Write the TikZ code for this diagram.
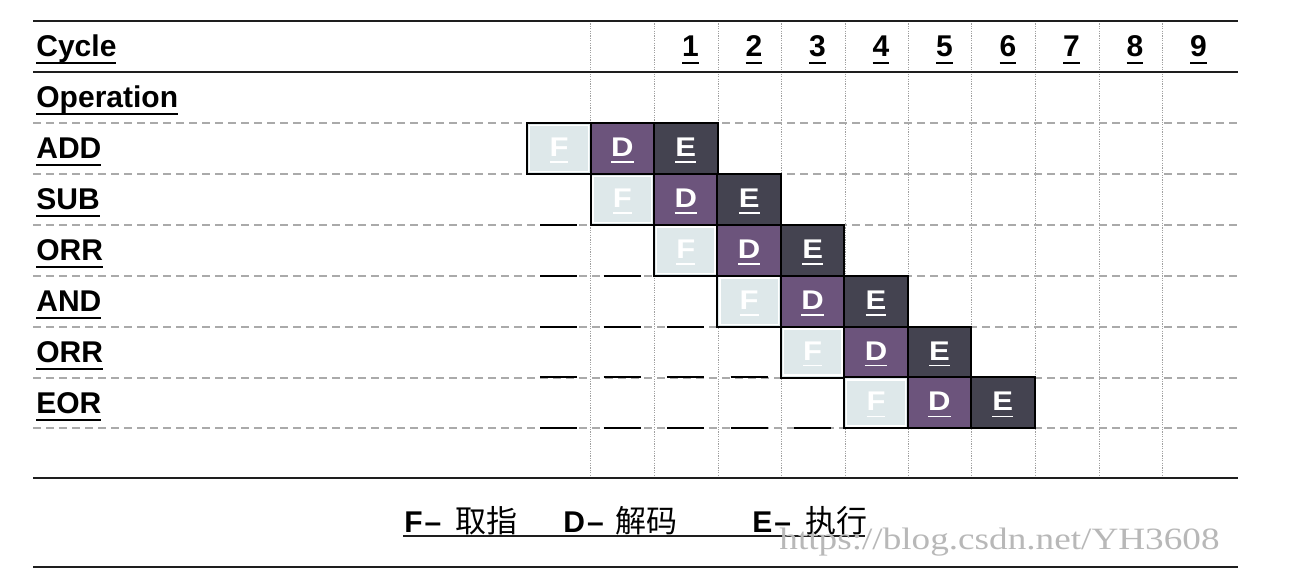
\documentclass[tikz,border=0pt]{standalone}
\usepackage{fontspec}
\usepackage{graphicx}
\setmainfont{Liberation Sans}
\newfontfamily\cjk{Noto Sans CJK SC}
\newfontfamily\wmfont{Liberation Serif}
\newcommand\myuline[1]{\leavevmode\setbox0\hbox{#1}\rlap{\rule[-3.6pt]{\wd0}{1pt}}\box0}
\newcommand\myulinebox[1]{\leavevmode\setbox0\hbox{#1}\rlap{\rule[-3.2pt]{\wd0}{0.8pt}}\box0}
\definecolor{fcol}{RGB}{222,232,234}
\definecolor{dcol}{RGB}{108,84,124}
\definecolor{ecol}{RGB}{68,67,80}
\definecolor{rulecol}{RGB}{30,30,30}
\definecolor{dashcol}{RGB}{170,170,170}
\definecolor{dotcol}{RGB}{160,160,160}
\begin{document}
\begin{tikzpicture}[x=0.5pt,y=-0.5pt,
  hrule/.style={draw=rulecol, line width=1pt},
  rowrule/.style={draw=dashcol, line width=0.6pt, dash pattern=on 4pt off 2.5pt},
  colrule/.style={draw=dotcol, line width=0.5pt, dash pattern=on 0.6pt off 0.6pt},
  lbl/.style={anchor=base west, inner sep=0pt, font=\fontsize{15}{18}\selectfont\bfseries},
  num/.style={anchor=base, inner sep=0pt, font=\fontsize{15}{18}\selectfont\bfseries},
  cell/.style={draw=black, line width=1pt, minimum width=31.75pt, minimum height=25.5pt,
    inner sep=0pt, text=white, text height=8pt, text depth=0pt,
    font=\fontsize{13.5}{16}\selectfont\bfseries},
  fcell/.style={cell, fill=fcol, path picture={\draw[white, line width=0.7pt]
    ([shift={(1.2pt,1.2pt)}]path picture bounding box.south west) rectangle
    ([shift={(-1.2pt,-1.2pt)}]path picture bounding box.north east);}},
  dcell/.style={cell, fill=dcol},
  ecell/.style={cell, fill=ecol},
  blankmark/.style={draw=black, line width=1pt},
  leg/.style={anchor=base west, inner sep=0pt, font=\fontsize{15}{18}\selectfont\bfseries},
  wm/.style={anchor=base west, inner sep=0pt, text=black!28, font=\wmfont\fontsize{15.5}{18}\selectfont}
]
\useasboundingbox[fill=white] (0,0) rectangle (1296,582);

% vertical dotted column lines
\foreach \x in {590,654,718,781,845,908,971,1035,1099,1162}
  \draw[colrule] (\x,21) -- (\x,478);

% horizontal dashed row lines
\foreach \y in {123,174,225,276,327,378,428}
  \draw[rowrule] (33,\y) -- (1238,\y);

% solid rules
\foreach \y in {21,72,478,567}
  \draw[hrule] (33,\y) -- (1238,\y);

% header texts
\node[lbl] (cycle) at (36,57) {\myuline{Cycle}};
\node[lbl] (operation) at (36,108) {\myuline{Operation}};
\foreach \k in {1,...,9}
  \node[num] (n\k) at ({690.5+63.5*(\k-1)},57) {\myuline{\k}};

% operation labels
\foreach \name [count=\j from 0] in {ADD,SUB,ORR,AND,ORR,EOR}
  \node[lbl] (op\j) at (36,{159+50.9*\j}) {\myuline{\name}};

% short blank marks
\foreach \j in {1,...,5}
  \foreach \i in {1,...,\j}
    \draw[blankmark] ({540+63.5*(\i-1)},{123+50.9*(\j+1)}) -- ++(37,0);

% pipeline cells
\foreach \j in {0,...,5}{
  \node[fcell] (f\j) at ({559+63.4*\j},{148.5+50.9*\j}) {\scalebox{1.15}[1]{\myulinebox{F}}};
  \node[dcell] (d\j) at ({559+63.4*(\j+1)},{148.5+50.9*\j}) {\scalebox{1.15}[1]{\myulinebox{D}}};
  \node[ecell] (e\j) at ({559+63.4*(\j+2)},{148.5+50.9*\j}) {\scalebox{1.15}[1]{\myulinebox{E}}};
}

% legend
\node[leg] (legf) at (404,532) {F\hspace{1pt}–\hspace{7pt}{\cjk\fontsize{15.5}{18}\selectfont\mdseries 取指}};
\node[leg] (legd) at (563,532) {D\hspace{1pt}–\hspace{6pt}{\cjk\fontsize{15.5}{18}\selectfont\mdseries 解码}};
\node[leg] (lege) at (752,532) {E\hspace{1pt}–\hspace{7pt}{\cjk\fontsize{15.5}{18}\selectfont\mdseries 执行}};
\coordinate (ulstart) at (403,536);
\coordinate (ulend) at (865,536);
\draw[line width=1pt, draw=rulecol] (ulstart) -- (ulend);

% watermark
\node[wm] (wmark) at (779,549) {\scalebox{1.2}[1]{https://blog.csdn.net/YH3608}};
\end{tikzpicture}
\end{document}
